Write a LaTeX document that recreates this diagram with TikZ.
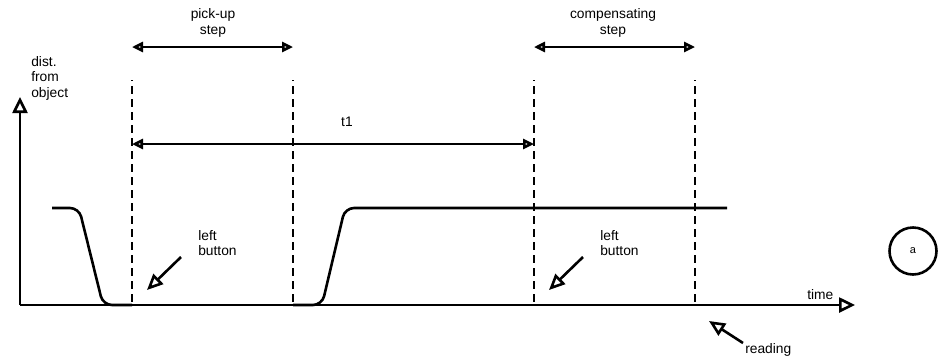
\documentclass[tikz,border=0pt]{standalone}
\usepackage{fontspec}
\setmainfont{Liberation Sans}
\usetikzlibrary{arrows.meta}
\begin{document}
\begin{tikzpicture}[x=1pt,y=-1pt, line width=2.6pt,
  lbl/.style={font=\fontsize{13.8}{15.5}\selectfont, align=center, inner sep=0pt},
  lbll/.style={lbl, align=left, anchor=north west},
  dline/.style={dash pattern=on 8pt off 5pt, dash phase=7pt},
  bigtip/.style={-{Triangle[open,length=16pt,width=15pt]}},
  midtip/.style={-{Triangle[open,length=16pt,width=14pt]}},
  dbl/.style={{Triangle[open,length=11pt,width=10pt]}-{Triangle[open,length=11pt,width=10pt]}},
  sigline/.style={rounded corners=9pt}
]
\useasboundingbox (0,0) rectangle (938,360);
% axes
\coordinate (O) at (20,305);
\coordinate (ytop) at (20,97);
\coordinate (xend) at (855,305);
\draw[bigtip] (O) -- (ytop);
\draw[bigtip] (O) -- (xend);
\node[lbll] (ylab) at (30,55) {dist.\\from\\object};
\node[lbl, anchor=base west] (tlab) at (806,299) {time};
% dashed markers
\coordinate (d1t) at (132,80); \coordinate (d1b) at (132,305);
\coordinate (d2t) at (293,80); \coordinate (d2b) at (293,305);
\coordinate (d3t) at (534,80); \coordinate (d3b) at (534,305);
\coordinate (d4t) at (695,80); \coordinate (d4b) at (695,305);
\draw[dline] (d1t) -- (d1b);
\draw[dline] (d2t) -- (d2b);
\draw[dline] (d3t) -- (d3b);
\draw[dline] (d4t) -- (d4b);
% step arrows
\coordinate (p1) at (132,47); \coordinate (p2) at (293,47);
\coordinate (c1) at (534,47); \coordinate (c2) at (695,47);
\draw[dbl] (p1) -- (p2);
\draw[dbl] (c1) -- (c2);
\node[lbl] (pick) at (213,23) {pick-up\\step};
\node[lbl] (comp) at (613,23) {compensating\\step};
% t1
\coordinate (t1a) at (132,144); \coordinate (t1b) at (534,144);
\draw[dbl] (t1a) -- (t1b);
\node[lbl] (t1) at (347,122) {t1};
% signal
\draw[sigline] (52,208) -- (79,208) -- (103,305) -- (132,305);
\draw[sigline] (293,305) -- (322,305) -- (345,208) -- (727,208);
% left button arrows
\coordinate (lb1s) at (181,257); \coordinate (lb1e) at (147,290);
\coordinate (lb2s) at (583,257); \coordinate (lb2e) at (549,290);
\draw[midtip] (lb1s) -- (lb1e);
\draw[midtip] (lb2s) -- (lb2e);
\node[lbll] (lbt1) at (197,229) {left\\button};
\node[lbll] (lbt2) at (599,229) {left\\button};
% reading
\coordinate (rs) at (743,343); \coordinate (re) at (709,321);
\draw[midtip] (rs) -- (re);
\node[lbl, anchor=base west] (read) at (744,353) {reading};
% circle a
\node[draw, circle, minimum size=47pt, inner sep=0pt, font=\fontsize{11}{12}\selectfont] (a) at (913,251) {a};
\end{tikzpicture}
\end{document}
